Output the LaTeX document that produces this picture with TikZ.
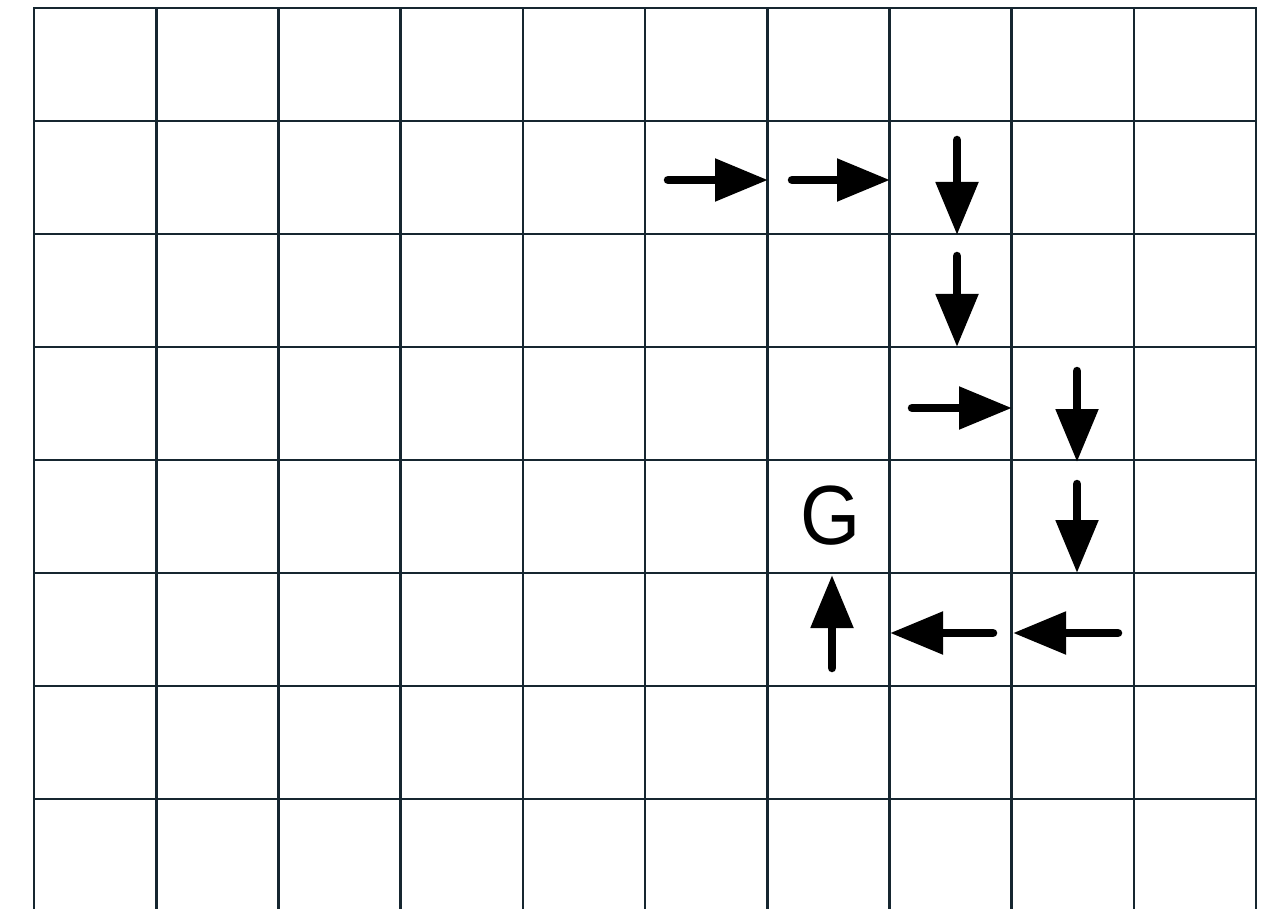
\documentclass[tikz,border=0pt]{standalone}
\usepackage{fontspec}
\setsansfont{Liberation Sans}
\usetikzlibrary{arrows.meta}
\definecolor{gridink}{RGB}{22,38,48}

\begin{document}
\begin{tikzpicture}[
  x=1pt, y=-1pt,
  gridline/.style={draw=gridink, line width=2.6pt, line cap=rect},
  move/.style={draw=black, line width=8.5pt, line cap=round,
               -{Triangle[width=41pt, length=53pt]}},
  goal/.style={font=\sffamily\fontsize{84}{84}\selectfont, inner sep=0pt}
]
\useasboundingbox (0,0) rectangle (1272,909);
\clip (0,0) rectangle (1272,909);

% grid of cells, open at the bottom
\foreach \i in {0,...,10}
  \draw[gridline] ({34+122.2*\i},8) -- ({34+122.2*\i},920);
\foreach \j in {0,...,7}
  \draw[gridline] (34,{8+113*\j}) -- (1256,{8+113*\j});

% path of moves
\coordinate (s1) at (668,180);  \coordinate (e1) at (768,180);
\coordinate (s2) at (792,180);  \coordinate (e2) at (890,180);
\coordinate (s3) at (957,140);  \coordinate (e3) at (957,235);
\coordinate (s4) at (957,256);  \coordinate (e4) at (957,347);
\coordinate (s5) at (912,408);  \coordinate (e5) at (1012,408);
\coordinate (s6) at (1077,371); \coordinate (e6) at (1077,462);
\coordinate (s7) at (1077,484); \coordinate (e7) at (1077,573);
\coordinate (s8) at (993,633);  \coordinate (e8) at (890,633);
\coordinate (s9) at (1118,633); \coordinate (e9) at (1013,633);
\coordinate (s10) at (832,668); \coordinate (e10) at (832,575);

\foreach \a/\b in {s1/e1, s2/e2, s3/e3, s4/e4, s5/e5, s6/e6, s7/e7, s8/e8, s9/e9, s10/e10}
  \draw[move] (\a) -- (\b);

\node[goal] (G) at (831,516) {\scalebox{0.92}[1]{G}};

\end{tikzpicture}
\end{document}
